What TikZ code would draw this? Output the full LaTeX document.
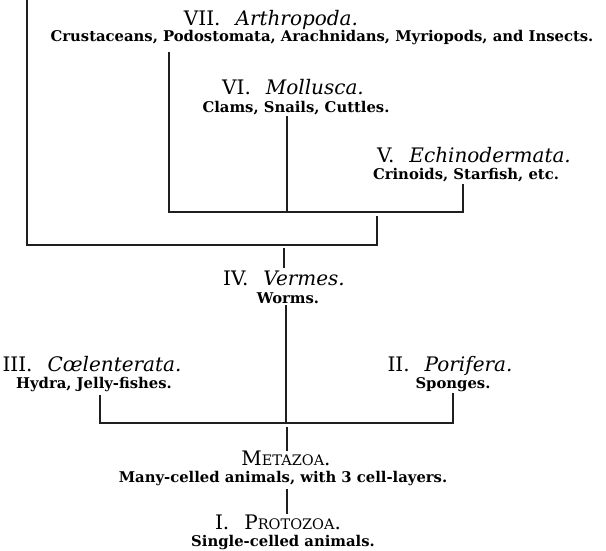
\documentclass[tikz,border=0pt]{standalone}
\usepackage{fontspec}
\setmainfont{DejaVu Serif}
\newcommand{\gp}{\hspace{0.75em}}
\newcommand{\fsc}[1]{{\fontsize{14.5}{15}\selectfont #1}}
\tikzset{
  ttl/.style={anchor=base, inner sep=0pt, font=\fontsize{20}{20}\selectfont},
  sub/.style={anchor=base, inner sep=0pt, font=\fontsize{14.8}{15}\selectfont\bfseries},
  ln/.style={line width=1.2pt, draw=black!88, line cap=rect}
}
\begin{document}
\begin{tikzpicture}[x=1pt,y=-1pt]
\useasboundingbox (0,0) rectangle (606,551);
% texts
\node[ttl] (t7) at (271,26) {VII.\gp\textit{Arthropoda.}};
\node[sub] (s7) at (322,42) {Crustaceans, Podostomata, Arachnidans, Myriopods, and Insects.};
\node[ttl] (t6) at (293,95) {VI.\gp\textit{Mollusca.}};
\node[sub] (s6) at (296,113) {Clams, Snails, Cuttles.};
\node[ttl] (t5) at (474,162) {V.\gp\textit{Echinodermata.}};
\node[sub] (s5) at (466,179) {Crinoids, Starfish, etc.};
\node[ttl] (t4) at (284,285) {IV.\gp\textit{Vermes.}};
\node[sub] (s4) at (288,303) {Worms.};
\node[ttl] (t3) at (92,371) {III.\gp\textit{Cœlenterata.}};
\node[sub] (s3) at (94,388) {Hydra, Jelly-fishes.};
\node[ttl] (t2) at (450,371) {II.\gp\textit{Porifera.}};
\node[sub] (s2) at (453,388) {Sponges.};
\node[ttl] (tm) at (286,465) {M\fsc{ETAZOA}.};
\node[sub] (sm) at (283,482) {Many-celled animals, with 3 cell-layers.};
\node[ttl] (t1) at (278,529) {I.\gp P\fsc{ROTOZOA}.};
\node[sub] (s1) at (283,546) {Single-celled animals.};
% junction coordinates
\coordinate (topL) at (27,-2);
\coordinate (cL) at (27,245);
\coordinate (cR) at (377,245);
\coordinate (stubT) at (377,217);
\coordinate (a7) at (169,53);
\coordinate (j7) at (169,212);
\coordinate (a6) at (287,117);
\coordinate (j6) at (287,212);
\coordinate (a5) at (463,185);
\coordinate (j5) at (463,212);
\coordinate (v4a) at (284,249);
\coordinate (v4b) at (284,267);
\coordinate (w4) at (286,306);
\coordinate (j4) at (286,423);
\coordinate (a3) at (100,396);
\coordinate (j3) at (100,423);
\coordinate (a2) at (453,394);
\coordinate (j2) at (453,423);
\coordinate (mA) at (287,428);
\coordinate (mB) at (287,450);
\coordinate (pA) at (287,490);
\coordinate (pB) at (287,513);
% connectors
\draw[ln] (topL) -- (cL) -- (cR) -- (stubT);
\draw[ln] (a7) -- (j7) -- (j5) -- (a5);
\draw[ln] (a6) -- (j6);
\draw[ln] (v4a) -- (v4b);
\draw[ln] (w4) -- (j4);
\draw[ln] (a3) -- (j3) -- (j2) -- (a2);
\draw[ln] (mA) -- (mB);
\draw[ln] (pA) -- (pB);
\end{tikzpicture}
\end{document}
